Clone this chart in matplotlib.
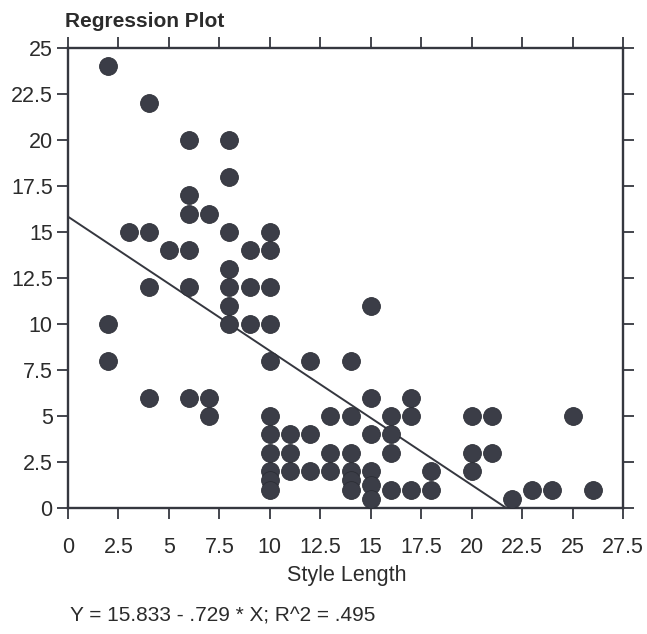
import matplotlib
matplotlib.use("Agg")
import matplotlib.pyplot as plt
import numpy as np

plt.rcParams['font.family'] = ['Liberation Sans', 'DejaVu Sans']

# Data
style_length = [2, 2, 2,
                3,
                4, 4, 4, 4,
                5,
                6, 6, 6, 6, 6, 6,
                7, 7, 7,
                8, 8, 8, 8, 8, 8, 8,
                9, 9, 9,
                10, 10, 10, 10, 10, 10, 10, 10, 10, 10, 10,
                11, 11, 11,
                12, 12, 12,
                13, 13, 13,
                14, 14, 14, 14, 14, 14,
                15, 15, 15, 15, 15, 15,
                16, 16, 16, 16,
                17, 17, 17,
                18, 18,
                20, 20, 20,
                21, 21,
                22,
                23,
                24,
                25,
                26]
response = [24, 10, 8,
            15,
            22, 15, 12, 6,
            14,
            20, 17, 16, 14, 12, 6,
            16, 6, 5,
            20, 18, 15, 13, 12, 11, 10,
            14, 12, 10,
            15, 14, 12, 10, 8, 5, 4, 3, 2, 1.5, 1,
            4, 3, 2,
            8, 4, 2,
            5, 3, 2,
            8, 5, 3, 2, 1.5, 1,
            11, 6, 4, 2, 1.25, 0.5,
            5, 4, 3, 1,
            6, 5, 1,
            2, 1,
            5, 3, 2,
            5, 3,
            0.5,
            1,
            1,
            5,
            1]
intercept = 15.833
slope = -0.729
r_squared = 0.495

x_ticks = [0, 2.5, 5, 7.5, 10, 12.5, 15, 17.5, 20, 22.5, 25, 27.5]
x_tick_labels = ['0', '2.5', '5', '7.5', '10', '12.5', '15', '17.5', '20', '22.5', '25', '27.5']
y_ticks = [0, 2.5, 5, 7.5, 10, 12.5, 15, 17.5, 20, 22.5, 25]
y_tick_labels = ['0', '2.5', '5', '7.5', '10', '12.5', '15', '17.5', '20', '22.5', '25']

ink = '#35373f'
txt = '#2b2b2b'

fig = plt.figure(figsize=(6.47, 6.34), dpi=100)
ax = fig.add_axes([0.1051, 0.1987, 0.8578, 0.7256])

ax.scatter(style_length, response, s=165, color='#3b3d47', edgecolors='#2c2e36',
           linewidths=0.6, zorder=3, clip_on=False)

x_end = -intercept / slope
xl = np.array([0, x_end])
ax.plot(xl, intercept + slope * xl, color=ink, lw=1.4, zorder=2)

ax.set_xlim(0, 27.5)
ax.set_ylim(0, 25)
ax.set_xticks(x_ticks)
ax.set_xticklabels(x_tick_labels)
ax.set_yticks(y_ticks)
ax.set_yticklabels(y_tick_labels)

ax.tick_params(axis='both', direction='out', length=8, width=1.3, color=ink,
               labelsize=15.5, labelcolor=txt, top=True, right=True,
               labeltop=False, labelright=False)
ax.tick_params(axis='x', pad=13)
ax.tick_params(axis='y', pad=3)
for sp in ax.spines.values():
    sp.set_linewidth(1.7)
    sp.set_color(ink)

ax.set_xlabel('Style Length', fontsize=15.5, color=txt)
ax.xaxis.label.set_va('baseline')
ax.xaxis.set_label_coords(0.503, -0.158)

fig.text(65 / 647, 0.957, 'Regression Plot', fontsize=15, fontweight='bold',
         color=txt, ha='left', va='baseline')
fig.text(70 / 647, 0.019,
         f'Y = {intercept:.3f} - {abs(slope):.3f}'.replace(' 0.', ' .')
         + f' * X; R^2 = {r_squared:.3f}'.replace('= 0.', '= .'),
         fontsize=15, color=txt, ha='left', va='baseline')

fig.savefig('out.png', dpi=100)
